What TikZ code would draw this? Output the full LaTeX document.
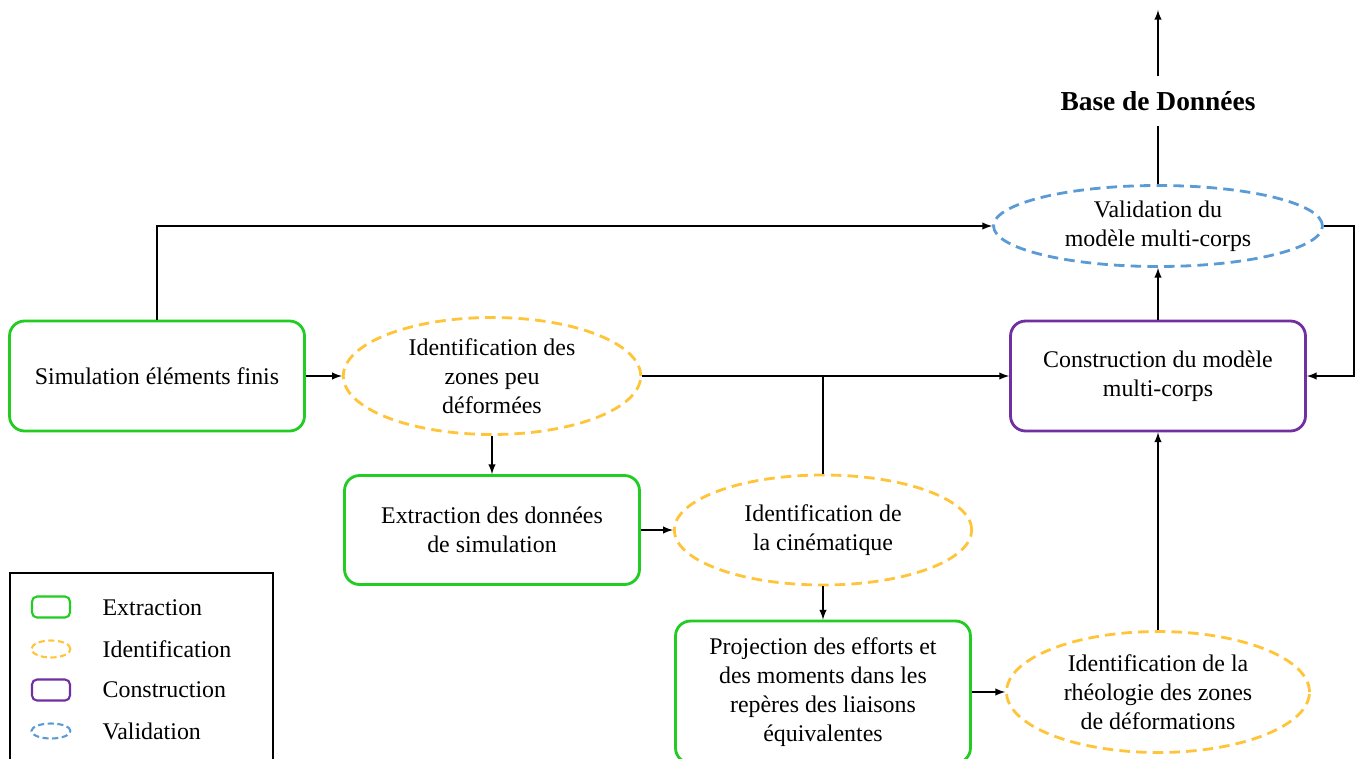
\documentclass[tikz,border=0pt]{standalone}
\usepackage{fontspec}
\setmainfont{Liberation Serif}
\usetikzlibrary{arrows}
\usetikzlibrary{shapes.geometric}
\definecolor{mgreen}{RGB}{34,204,34}
\definecolor{myellow}{RGB}{255,196,56}
\definecolor{mpurple}{RGB}{112,48,160}
\definecolor{mblue}{RGB}{91,155,213}
\tikzset{txt/.style = {align=center, font=\fontsize{13.6}{16.4}\selectfont}}
\tikzset{extr/.style = {txt, draw=mgreen, line width=1.6pt, rounded corners=0.3cm, minimum width=5.9cm, minimum height=2.2cm}}
\tikzset{constr/.style = {extr, draw=mpurple}}
\tikzset{ident/.style = {txt, ellipse, draw=myellow, line width=1.6pt, dash pattern=on 6pt off 3.5pt, inner sep=0pt, minimum width=5.95cm, minimum height=2.3cm}}
\tikzset{valid/.style = {ident, draw=mblue}}

\begin{document}
\begin{tikzpicture}[x=0.02cm, y=-0.02cm, >=latex, line width=0.9pt]
    \useasboundingbox (0, 0) rectangle (1360, 758);

    % main boxes
    \node [extr] (sim) at (157, 376) {Simulation éléments finis};
    \node [ident, minimum height=2.34cm] (zones) at (492, 376) {Identification des\\zones peu\\déformées};
    \node [extr, minimum height=2.18cm] (extract) at (492, 530) {Extraction des données\\de simulation};
    \node [ident, minimum height=2.2cm] (cine) at (823, 530) {Identification de\\la cinématique};
    \node [extr, minimum height=2.84cm] (proj) at (823, 692) {Projection des efforts et\\des moments dans les\\repères des liaisons\\équivalentes};
    \node [ident, minimum width=6.06cm, minimum height=2.42cm] (rheo) at (1158, 692) {Identification de la\\rhéologie des zones\\de déformations};
    \node [constr] (build) at (1158, 376) {Construction du modèle\\multi-corps};
    \node [valid, minimum width=6.58cm, minimum height=1.62cm] (check) at (1158, 226) {Validation du\\modèle multi-corps};
    \node [txt, font=\fontsize{15.6}{18}\selectfont\bfseries, minimum height=0.96cm] (base) at (1158, 101) {Base de Données};
    \coordinate (out) at (1158, 10);

    % connectors
    \draw [->] (sim.east) -- (zones.west);
    \draw [->] (sim.north) |- (check.west);
    \draw [->] (zones.east) -- (build.west);
    \draw [->] (zones.south) -- (extract.north);
    \draw [->] (extract.east) -- (cine.west);
    \draw (cine.north) -- (cine.north |- zones.east);
    \draw [->] (cine.south) -- (proj.north);
    \draw [->] (proj.east) -- (rheo.west);
    \draw [->] (rheo.north) -- (build.south);
    \draw [->] (build.north) -- (check.south);
    \draw [->] (check.east) -- ++(30, 0) |- (build.east);
    \draw (check.north) -- (base.south);
    \draw [->] (base.north) -- (out);

    % legend
    \draw [line width=0.7pt] (10, 573) rectangle (273, 800);
    \node [extr, line width=1.2pt, rounded corners=0.1cm, minimum width=0.76cm, minimum height=0.42cm] (lgextr) at (51, 607) {};
    \node [ident, line width=1.2pt, dash pattern=on 3.5pt off 2pt, minimum width=0.78cm, minimum height=0.34cm] (lgident) at (51, 649) {};
    \node [constr, line width=1.2pt, rounded corners=0.1cm, minimum width=0.76cm, minimum height=0.42cm] (lgconstr) at (51, 690) {};
    \node [valid, line width=1.2pt, dash pattern=on 3.5pt off 2pt, minimum width=0.78cm, minimum height=0.3cm] (lgvalid) at (51, 731) {};
    \node [txt, anchor=west] (lgt1) at (96, 608) {Extraction};
    \node [txt, anchor=west] (lgt2) at (96, 649) {Identification};
    \node [txt, anchor=west] (lgt3) at (96, 690) {Construction};
    \node [txt, anchor=west] (lgt4) at (96, 731) {Validation};
\end{tikzpicture}
\end{document}
